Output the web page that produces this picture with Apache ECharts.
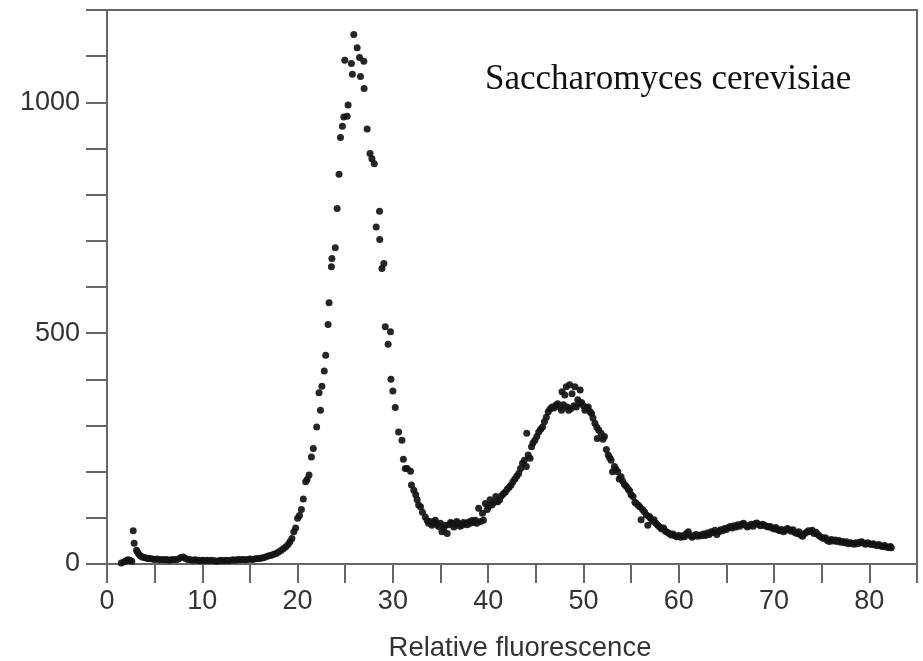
<!DOCTYPE html>
<html>
<head>
<meta charset="utf-8">
<script src="https://cdn.jsdelivr.net/npm/echarts@6/dist/echarts.min.js"></script>
<style>
  html, body { margin: 0; padding: 0; background: #fff; }
  #chart { width: 923px; height: 661px; }
</style>
</head>
<body>
<div id="chart"></div>
<script>
// Flow-cytometry DNA content histogram, one point per channel: [fluorescence, count]
const debrisAndBaseline = [
  [1.5,2],[1.8,5],[2.0,7],[2.2,9],[2.4,8],[2.6,6],[2.75,72],[2.85,45],[3.1,30],[3.2,26],
  [3.35,21],[3.5,18],[3.7,15],[3.9,14],[4.1,13],[4.3,12],[4.5,12],[4.75,11],[5.0,10],[5.25,11],
  [5.5,9],[5.75,10],[6.0,9],[6.25,10],[6.5,8],[6.75,9],[7.0,10],[7.25,9],[7.5,11],[7.75,14],
  [8.0,15],[8.25,12],[8.5,10],[8.75,9],[9.0,8],[9.25,9],[9.5,8],[9.75,7],[10.0,8],[10.25,7],
  [10.5,8],[10.75,7],[11.0,8],[11.25,7],[11.5,6],[11.75,7],[12.0,8],[12.25,7],[12.5,8],[12.75,7],
  [13.0,8],[13.25,9],[13.5,8],[13.75,10],[14.0,9],[14.25,10],[14.5,9],[14.75,10],[15.0,11],[15.25,10],
  [15.5,11],[15.75,12],[16.0,12],[16.25,13],[16.5,14],[16.75,16],[17.0,18],[17.25,19],[17.5,21],[17.75,23],
  [18.0,26],[18.25,29],[18.5,33],[18.75,37],[19.0,42],[19.2,48],[19.4,55]
];

const g1Peak = [
  [19.6,70],[19.8,78],[20.0,99],[20.2,105],[20.4,118],[20.6,141],[20.85,178],[21.0,183],[21.2,193],[21.45,232],
  [21.65,250],[22.0,297],[22.25,371],[22.4,333],[22.55,385],[22.8,418],[22.95,452],[23.2,519],[23.3,566],[23.55,644],
  [23.6,662],[23.95,685],[24.15,770],[24.35,844],[24.5,924],[24.7,948],[24.85,968],[24.95,1091],[25.2,970],[25.3,994],
  [25.65,1084],[25.75,1061],[25.9,1147],[26.25,1118],[26.5,1097],[26.6,1056],[26.95,1089],[26.98,1030],[27.3,942],[27.6,889],
  [27.8,878],[28.05,867],[28.25,730],[28.6,764],[28.62,703],[28.85,640],[29.05,651],[29.2,514],[29.5,476],[29.75,503],
  [29.8,400],[30.0,375],[30.25,339],[30.6,286],[30.95,268],[31.1,227],[31.3,207],[31.5,207],[31.85,201],[31.95,171],
  [32.2,160],[32.4,150]
];

const sPhaseTrough = [
  [32.55,139],[32.7,128],[32.9,124],[33.1,112],[33.4,102],[33.6,94],[33.75,88],[33.9,92],[34.1,84],[34.3,90],
  [34.45,95],[34.6,86],[34.8,81],[35.0,88],[35.15,70],[35.35,78],[35.5,84],[35.7,66],[35.9,85],[36.05,90],
  [36.2,88],[36.4,80],[36.55,86],[36.7,92],[36.9,88],[37.05,82],[37.25,84],[37.4,90],[37.6,88],[37.8,85],
  [37.95,91],[38.1,88],[38.3,94],[38.45,90],[38.65,95],[38.8,88]
];

const g2Peak = [
  [39.0,121],[39.2,92],[39.4,110],[39.5,95],[39.7,131],[39.9,118],[40.0,124],[40.2,139],[40.4,128],[40.6,133],
  [40.8,146],[41.0,135],[41.2,139],[41.4,148],[41.6,152],[41.8,156],[42.0,162],[42.2,166],[42.4,171],[42.6,178],
  [42.8,184],[43.0,190],[43.2,196],[43.4,207],[43.6,218],[43.8,225],[44.0,211],[44.05,283],[44.2,236],[44.4,229],
  [44.55,254],[44.7,262],[44.9,268],[45.1,276],[45.3,286],[45.5,292],[45.7,297],[45.9,308],[46.1,318],[46.3,330],
  [46.5,336],[46.7,340],[46.9,338],[47.1,344],[47.3,347],[47.5,340],[47.7,333],[47.75,373],[47.9,345],[48.05,366],
  [48.2,384],[48.3,340],[48.45,333],[48.55,388],[48.7,337],[48.8,369],[49.0,343],[49.1,384],[49.25,340],[49.4,356],
  [49.6,348],[49.65,377],[49.8,350],[50.0,343],[50.15,333],[50.35,338],[50.5,340],[50.7,330],[50.85,326],[51.0,316],
  [51.2,305],[51.4,296],[51.45,272],[51.6,290],[51.85,283],[52.05,270],[52.2,276],[52.4,248],[52.6,236],[52.75,230],
  [52.9,225],[53.05,200],[53.25,211],[53.4,205],[53.6,200],[53.75,184],[53.95,189],[54.1,180],[54.3,172],[54.5,168],
  [54.7,162],[54.85,158],[55.0,150],[55.2,146],[55.4,134],[55.55,131],[55.75,127],[55.9,124],[56.05,96],[56.2,118],
  [56.4,113],[56.6,106],[56.75,84],[56.9,103]
];

const aggregateTail = [
  [57.0,100],[57.2,93],[57.4,96],[57.6,88],[57.8,84],[58.0,80],[58.2,76],[58.4,78],[58.6,71],[58.8,69],
  [59.0,66],[59.2,63],[59.4,65],[59.6,61],[59.8,59],[60.0,62],[60.2,58],[60.4,61],[60.6,59],[60.8,66],
  [61.0,70],[61.2,62],[61.4,58],[61.6,61],[61.8,64],[62.0,60],[62.2,63],[62.4,61],[62.6,65],[62.8,62],
  [63.0,67],[63.2,64],[63.4,70],[63.6,68],[63.8,73],[64.0,64],[64.2,70],[64.4,74],[64.6,72],[64.8,77],
  [65.0,75],[65.2,79],[65.4,81],[65.6,78],[65.8,83],[66.0,80],[66.2,85],[66.4,82],[66.6,86],[66.8,88],
  [67.0,84],[67.2,80],[67.4,83],[67.6,86],[67.8,82],[68.0,87],[68.2,89],[68.4,85],[68.6,83],[68.8,86],
  [69.0,84],[69.2,82],[69.4,80],[69.6,81],[69.8,78],[70.0,76],[70.2,79],[70.4,74],[70.6,72],[70.8,75],
  [71.0,70],[71.2,73],[71.4,77],[71.6,74],[71.8,71],[72.0,74],[72.2,68],[72.4,66],[72.6,70],[72.8,63],
  [73.0,60],[73.2,66],[73.4,69],[73.6,72],[73.8,70],[74.0,73],[74.2,66],[74.4,69],[74.6,64],[74.8,60],
  [75.0,58],[75.2,55],[75.4,57],[75.6,51],[75.8,49],[76.0,53],[76.2,50],[76.4,52],[76.6,49],[76.8,51],
  [77.0,47],[77.2,49],[77.4,46],[77.6,48],[77.8,44],[78.0,46],[78.2,45],[78.4,43],[78.6,46],[78.8,44],
  [79.0,47],[79.2,48],[79.4,45],[79.6,43],[79.8,46],[80.0,44],[80.2,42],[80.4,44],[80.6,41],[80.8,40],
  [81.0,42],[81.2,39],[81.4,38],[81.6,40],[81.8,37],[82.0,36],[82.2,38],[82.3,35]
];

const xLabelValues = [0, 10, 20, 30, 40, 50, 60, 70, 80];
const yLabelValues = [0, 500, 1000];
const chartTitle = 'Saccharomyces cerevisiae';
const xAxisTitle = 'Relative fluorescence';

const points = [].concat(debrisAndBaseline, g1Peak, sPhaseTrough, g2Peak, aggregateTail);

const axisGray = '#666';
const labelFont = { fontFamily: 'Liberation Sans, Arial, sans-serif', fontSize: 27, color: '#333' };

const chart = echarts.init(document.getElementById('chart'), null, { renderer: 'canvas' });
chart.setOption({
  animation: false,
  backgroundColor: '#fff',
  title: {
    text: chartTitle,
    left: 480,
    top: 57,
    textStyle: { fontFamily: 'Liberation Serif, Times New Roman, serif', fontSize: 35, fontWeight: 'normal', color: '#111' }
  },
  grid: {
    left: 107, right: 6, top: 10, bottom: 97,
    outerBoundsMode: 'none',
    containLabel: false,
    show: true, borderColor: axisGray, borderWidth: 2, backgroundColor: 'transparent'
  },
  xAxis: {
    type: 'value', min: 0, max: 85, interval: 5,
    name: xAxisTitle, nameLocation: 'middle', nameGap: 70,
    nameTextStyle: { fontFamily: labelFont.fontFamily, fontSize: 27.5, color: '#333', padding: [0, 0, 0, 16] },
    axisLine: { show: true, lineStyle: { color: axisGray, width: 2 } },
    axisTick: { show: true, inside: false, length: 19, lineStyle: { color: axisGray, width: 2 } },
    axisLabel: Object.assign({ margin: 24, formatter: v => xLabelValues.includes(v) ? String(v) : '' }, labelFont),
    splitLine: { show: false }
  },
  yAxis: {
    type: 'value', min: 0, max: 1200, interval: 100,
    axisLine: { show: true, lineStyle: { color: axisGray, width: 2 } },
    axisTick: { show: true, inside: false, length: 21, lineStyle: { color: axisGray, width: 2 } },
    axisLabel: Object.assign({ margin: 27, formatter: v => yLabelValues.includes(v) ? String(v) : '' }, labelFont),
    splitLine: { show: false }
  },
  series: [{
    type: 'scatter',
    data: points,
    symbol: 'circle',
    symbolSize: 7,
    itemStyle: { color: '#141414', opacity: 0.92 }
  }]
});
</script>
</body>
</html>
